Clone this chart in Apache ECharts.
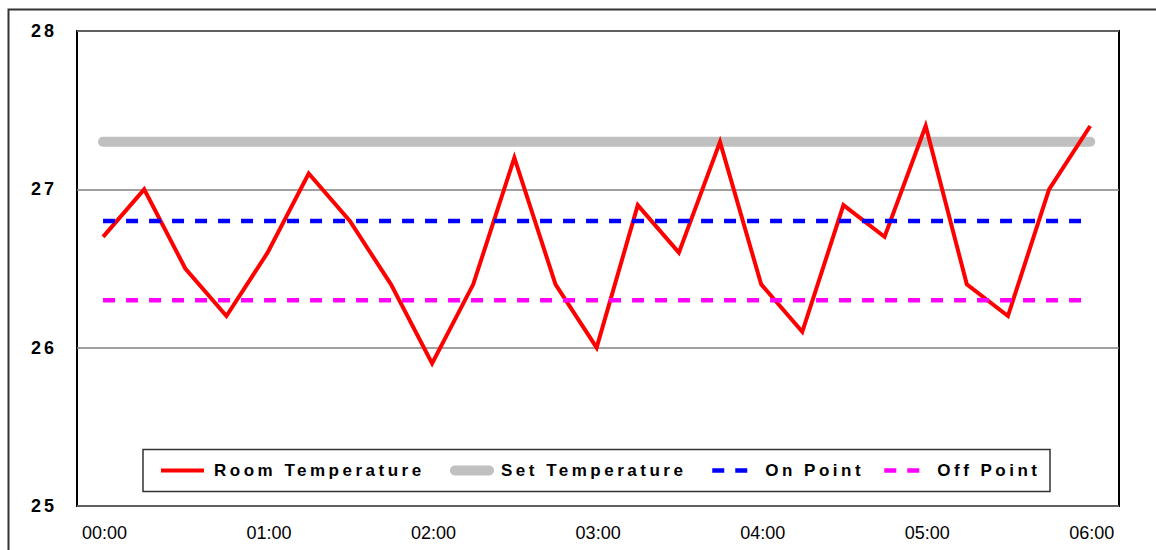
<!DOCTYPE html>
<html>
<head>
<meta charset="utf-8">
<style>
  html, body { margin: 0; padding: 0; background: #fff; }
  #chart { width: 1156px; height: 550px; }
</style>
<script src="https://cdn.jsdelivr.net/npm/echarts@6/dist/echarts.min.js"></script>
</head>
<body>
<div id="chart"></div>
<script>
// ---- data ----
const timeLabels = ['00:00','00:15','00:30','00:45','01:00','01:15','01:30','01:45',
  '02:00','02:15','02:30','02:45','03:00','03:15','03:30','03:45',
  '04:00','04:15','04:30','04:45','05:00','05:15','05:30','05:45','06:00'];
const roomTemperature = [26.7, 27.0, 26.5, 26.2, 26.6, 27.1, 26.8, 26.4,
  25.9, 26.4, 27.2, 26.4, 26.0, 26.9, 26.6, 27.3,
  26.4, 26.1, 26.9, 26.7, 27.4, 26.4, 26.2, 27.0, 27.4];
const setTemperature = 27.3;
const onPoint = 26.8;
const offPoint = 26.3;
const xTickLabels = ['00:00','01:00','02:00','03:00','04:00','05:00','06:00'];
const yTicks = [25, 26, 27, 28];
const seriesNames = ['Room Temperature', 'Set Temperature', 'On Point', 'Off Point'];

// ---- helpers ----
const toMin = s => { const p = s.split(':'); return (+p[0]) * 60 + (+p[1]); };
const fmt = m => { const h = Math.floor(m / 60), mm = m % 60; return String(h).padStart(2, '0') + ':' + String(mm).padStart(2, '0'); };
const firstT = toMin(timeLabels[0]);
const lastT = toMin(timeLabels[timeLabels.length - 1]);

const roomData = timeLabels.map((t, i) => [toMin(t), roomTemperature[i]]);
const flat = v => [[firstT, v], [lastT, v]];

const FONT = 'Liberation Sans';

const styles = [
  { color: '#FF0000', width: 4, type: 'solid', cap: 'butt' },
  { color: '#C0C0C0', width: 10, type: 'solid', cap: 'round' },
  { color: '#0000FF', width: 4.5, type: [12, 11], cap: 'butt' },
  { color: '#FF00FF', width: 4.5, type: [12, 11], cap: 'butt' }
];

const chart = echarts.init(document.getElementById('chart'), null, { renderer: 'svg' });

const legendLeft = [159, 445, 710, 882];
const legends = seriesNames.map((n, i) => ({
  data: [n],
  left: legendLeft[i] + (styles[i].cap === 'round' ? 5 : 0),
  top: 462,
  padding: 0,
  itemWidth: styles[i].cap === 'round' ? 34 : 43,
  itemHeight: 14,
  selectedMode: false,
  z: 10,
  itemStyle: { opacity: 0, borderWidth: 0 },
  lineStyle: { width: styles[i].width, type: styles[i].type, cap: styles[i].cap, color: styles[i].color },
  textStyle: { fontFamily: FONT, fontSize: 17, fontWeight: 'bold', color: '#000',
    padding: [0, 0, 0, styles[i].cap === 'round' ? 7 : 5] }
}));

const option = {
  animation: false,
  backgroundColor: '#fff',
  textStyle: { fontFamily: FONT },
  grid: {
    left: 77, right: 37, top: 31, bottom: 44,
    show: true, borderColor: '#000', borderWidth: 2, backgroundColor: 'transparent'
  },
  graphic: [
    { type: 'rect', left: 6, top: 7, shape: { x: 0, y: 0, width: 1200, height: 600 },
      style: { fill: 'none', stroke: '#333', lineWidth: 2 }, z: 0, silent: true },
    { type: 'rect', shape: { x: 143, y: 449.5, width: 907, height: 42 },
      style: { fill: '#fff', stroke: '#333', lineWidth: 1.5 }, z: 3, silent: true }
  ],
  legend: legends,
  xAxis: {
    type: 'value',
    min: firstT - 9.5,
    max: lastT + 10.5,
    axisLine: { show: false },
    axisTick: { show: false },
    splitLine: { show: false },
    axisLabel: {
      customValues: xTickLabels.map(toMin),
      formatter: v => fmt(v),
      fontFamily: FONT, fontSize: 18, color: '#000', margin: 18,
      padding: [0, 0, 0, 3]
    }
  },
  yAxis: {
    type: 'value',
    min: yTicks[0],
    max: yTicks[yTicks.length - 1],
    interval: 1,
    axisLine: { show: false },
    axisTick: { show: false },
    splitLine: { show: true, lineStyle: { color: '#808080', width: 1.5 } },
    axisLabel: { fontFamily: FONT, fontSize: 18, fontWeight: 'bold', color: '#000', margin: 20 }
  },
  series: [
    {
      name: seriesNames[1], type: 'line', data: flat(setTemperature), symbol: 'none',
      lineStyle: { color: styles[1].color, width: styles[1].width, cap: 'round' }, itemStyle: { color: styles[1].color }, z: 2
    },
    {
      name: seriesNames[0], type: 'line', data: roomData, symbol: 'none',
      lineStyle: { color: styles[0].color, width: styles[0].width, join: 'miter' }, itemStyle: { color: styles[0].color }, z: 3
    },
    {
      name: seriesNames[2], type: 'line', data: flat(onPoint), symbol: 'none',
      lineStyle: { color: styles[2].color, width: styles[2].width, type: styles[2].type }, itemStyle: { color: styles[2].color }, z: 4
    },
    {
      name: seriesNames[3], type: 'line', data: flat(offPoint), symbol: 'none',
      lineStyle: { color: styles[3].color, width: styles[3].width, type: styles[3].type }, itemStyle: { color: styles[3].color }, z: 4
    }
  ]
};

chart.setOption(option);

function spaceText() {
  document.querySelectorAll('#chart svg text').forEach(t => {
    const s = t.textContent;
    if (seriesNames.indexOf(s) >= 0) t.setAttribute('letter-spacing', '3.5');
    else if (/^\d\d$/.test(s)) t.setAttribute('letter-spacing', '3');
  });
}
spaceText();
chart.on('finished', spaceText);
setTimeout(spaceText, 0);
setTimeout(spaceText, 100);
setTimeout(spaceText, 400);
</script>
</body>
</html>
